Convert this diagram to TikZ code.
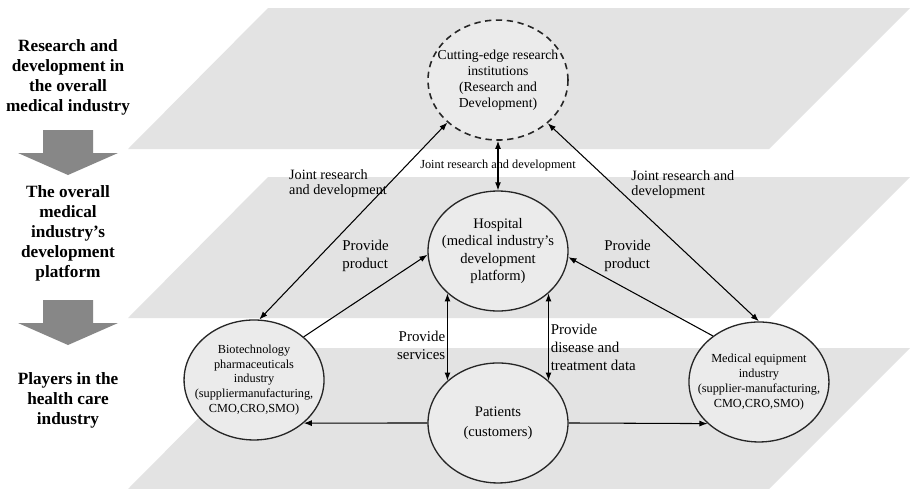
\documentclass[tikz,border=0pt]{standalone}
\usepackage{fontspec}
\setmainfont{Liberation Serif}
\usetikzlibrary{positioning, arrows.meta, shapes.geometric}

\begin{document}
\begin{tikzpicture}[x=0.02cm, y=-0.02cm, >={Latex[length=4.6pt,width=3.4pt]}, line width=0.6pt,
    band/.style={fill=black!11},
    stage/.style={font=\fontsize{9.8}{11.4}\selectfont\bfseries, align=center},
    party/.style={ellipse, draw=black!85, line width=0.75pt, fill=black!8, minimum width=2.8cm, minimum height=2.4cm, inner xsep=-0.4cm, inner ysep=0pt, align=center},
    hub/.style={party, font=\fontsize{8.3}{10}\selectfont},
    firm/.style={party, font=\fontsize{7}{8.5}\selectfont},
    jlbl/.style={font=\fontsize{8.1}{8.6}\selectfont, align=left, inner sep=1pt},
    plbl/.style={font=\fontsize{8.5}{10.2}\selectfont, align=left, inner sep=1pt}]
    \useasboundingbox (0,0) rectangle (910,488);
    \fill[white] (0,0) rectangle (910,488);

    \foreach \t in {8,177,348}
        \fill[band] (128,\t+141) -- (268,\t) -- (910,\t) -- (769,\t+141) -- cycle;
    \foreach \t in {130,300}
        \fill[black!47] (43,\t) -- (93,\t) -- (93,\t+23) -- (118,\t+23) -- (68,\t+45) -- (18,\t+23) -- (43,\t+23) -- cycle;

    \node[stage] (lvl1) at (68,77) {Research and\\development in\\the overall\\medical industry};
    \node[stage] (lvl2) at (68,233) {The overall\\medical\\industry's\\development\\platform};
    \node[stage] (lvl3) at (68,400) {Players in the\\health care\\industry};

    \node[hub] (hosp) at (498,251) {Hospital\\(medical industry's\\development\\platform)};
    \node[hub, dashed, dash pattern=on 3.6pt off 2.6pt, line width=0.9pt, font=\fontsize{7.8}{9.1}\selectfont, on grid] (rnd) [above=3.42cm of hosp] {Cutting-edge research\\institutions\\(Research and\\Development)};
    \node[hub, on grid] (pat) [below=3.44cm of hosp] {Patients\\[1.5pt](customers)};
    \node[firm, on grid] (bio) [above left=0.86cm and 4.88cm of pat] {Biotechnology\\pharmaceuticals\\industry\\(suppliermanufacturing,\\CMO,CRO,SMO)};
    \node[firm, on grid] (med) [above right=0.82cm and 5.22cm of pat] {Medical equipment\\industry\\(supplier-manufacturing,\\CMO,CRO,SMO)};

    \path[<->]
    (bio.85) edge node[jlbl, anchor=east, pos=0.69] {Joint research\\and development} (rnd.220)
    (hosp.north) edge node[jlbl, font=\fontsize{7}{8.4}\selectfont] {Joint research and development} (rnd.south)
    (med.90) edge node[jlbl, anchor=west, xshift=0.32cm, pos=0.69] {Joint research and\\development} (rnd.319)
    (hosp.220) edge node[plbl, anchor=east, align=right, pos=0.6] {Provide\\services} (pat.140)
    (hosp.320) edge node[plbl, anchor=west, pos=0.62] {Provide\\disease and\\treatment data} (pat.40);
    \path[->]
    (bio.41) edge node[plbl, yshift=0.8cm] {Provide\\product} (hosp.183)
    (med.135) edge node[plbl, xshift=-0.26cm, yshift=0.82cm] {Provide\\product} (hosp.355)
    (pat.west) edge (bio.319)
    (pat.east) edge (med.219);
\end{tikzpicture}
\end{document}
